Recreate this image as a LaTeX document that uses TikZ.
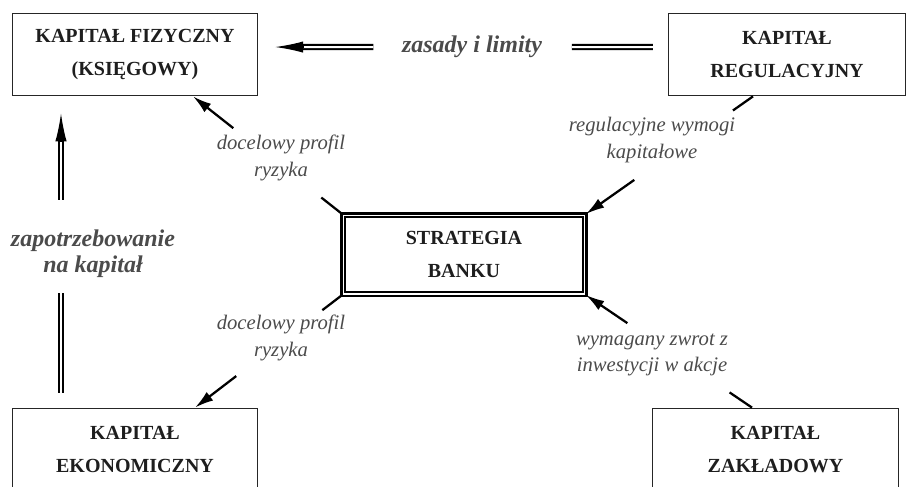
\documentclass[tikz,border=0pt]{standalone}
\usepackage{fontspec}
\setmainfont{Liberation Serif}
\usepackage{tikz}
\usetikzlibrary{arrows.meta,calc}
\definecolor{boxtext}{RGB}{30,30,30}
\definecolor{labeltext}{RGB}{75,75,75}

\begin{document}
\begin{tikzpicture}[x=0.75pt,y=-0.75pt,>={Latex[length=14pt,width=8pt]},
  capbox/.style={draw=black!85, line width=0.8pt, minimum width=184pt, minimum height=62pt,
    align=center, text=boxtext, font=\fontsize{15}{25}\selectfont\bfseries},
  stratbox/.style={draw, double, line width=1.7pt, double distance=1pt, minimum width=181pt,
    minimum height=59pt, align=center, text=boxtext, font=\fontsize{15}{25}\selectfont\bfseries},
  lbl/.style={align=center, text=labeltext, font=\fontsize{15.5}{20}\selectfont\itshape},
  boldlbl/.style={align=center, text=labeltext, font=\fontsize{18}{19.5}\selectfont\bfseries\itshape},
  conn/.style={line width=1.7pt},
  dbl/.style={double, line width=1.6pt, double distance=1.5pt},
  dbltip/.style={line width=1pt, -{Latex[length=21pt,width=8.5pt]}}]
  \useasboundingbox (0,0) rectangle (907,486);
  \clip (0,0) rectangle (907,486);

  % boxes
  \node[capbox] (kf) at (135,54.5) {KAPITAŁ FIZYCZNY\\(KSIĘGOWY)};
  \node[capbox, minimum width=178pt] (kr) at (787,54.5) {KAPITAŁ\\REGULACYJNY};
  \node[stratbox] (sb) at (464,254.5) {STRATEGIA\\BANKU};
  \node[capbox] (ke) at (135,449.5) {KAPITAŁ\\EKONOMICZNY};
  \node[capbox] (kz) at (775.5,449.5) {KAPITAŁ\\ZAKŁADOWY};

  % labels
  \node[boldlbl] (zasady) at (472,47) {zasady i limity};
  \node[boldlbl] (zapotrz) at (93,254) {zapotrzebowanie\\na kapitał};
  \node[lbl] (profil1) at (281,158) {docelowy profil\\ryzyka};
  \node[lbl] (wymogi) at (652,140) {regulacyjne wymogi\\kapitałowe};
  \node[lbl] (profil2) at (281,338) {docelowy profil\\ryzyka};
  \node[lbl] (zwrot) at (652,355) {wymagany zwrot z\\inwestycji w akcje};

  % double arrows
  \coordinate (hr) at ([xshift=-11.25pt,yshift=5.6pt]kr.west);
  \coordinate (hl) at ([xshift=12.75pt,yshift=5.6pt]kf.east);
  \draw[dbl] (hr) -- ($(hr)!0.214!(hl)$);
  \draw[dbl] ($(hr)!0.74!(hl)$) -- ($(hl)!21pt!(hr)$);
  \draw[dbltip] ($(hl)!21pt!(hr)$) -- (hl);

  \coordinate (vb) at ([xshift=-55.5pt,yshift=11.25pt]ke.north);
  \coordinate (vt) at ([xshift=-55.5pt,yshift=-12.75pt]kf.south);
  \draw[dbl] (vb) -- ($(vb)!0.357!(vt)$);
  \draw[dbl] ($(vb)!0.69!(vt)$) -- ($(vt)!21pt!(vb)$);
  \draw[dbltip] ($(vt)!21pt!(vb)$) -- (vt);

  % diagonal arrows
  \coordinate (kfin) at ([xshift=43.5pt]kf.south);
  \draw[conn] (sb.north west) -- ($(sb.north west)!0.14!(kfin)$);
  \draw[conn,->] ($(sb.north west)!0.73!(kfin)$) -- (kfin);

  \coordinate (krout) at ([xshift=-25.5pt]kr.south);
  \draw[conn] (krout) -- ($(krout)!0.12!(sb.north east)$);
  \draw[conn,->] ($(krout)!0.71!(sb.north east)$) -- (sb.north east);

  \coordinate (kein) at ([xshift=45pt]ke.north);
  \draw[conn] (sb.south west) -- ($(sb.south west)!0.135!(kein)$);
  \draw[conn,->] ($(sb.south west)!0.72!(kein)$) -- (kein);

  \coordinate (kzout) at ([xshift=-17.6pt]kz.north);
  \draw[conn] (kzout) -- ($(kzout)!0.135!(sb.south east)$);
  \draw[conn,->] ($(kzout)!0.75!(sb.south east)$) -- (sb.south east);
\end{tikzpicture}
\end{document}
